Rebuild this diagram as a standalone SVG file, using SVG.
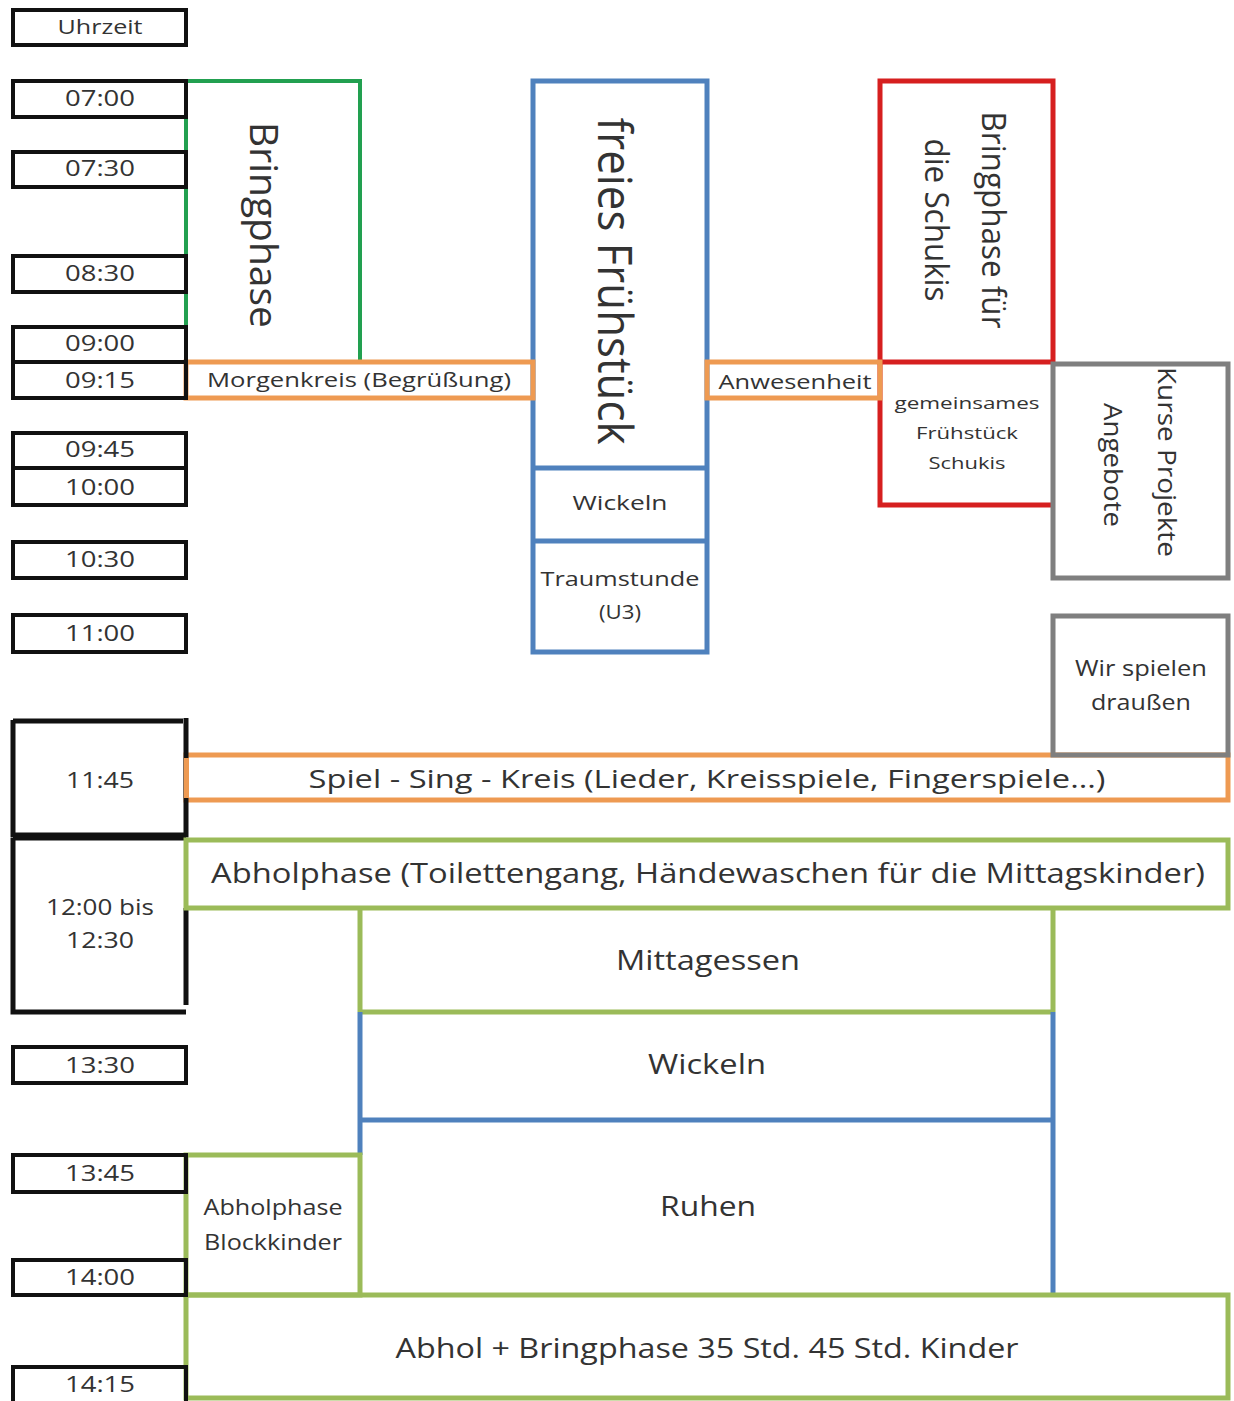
<svg xmlns="http://www.w3.org/2000/svg" width="1234" height="1401" viewBox="0 0 1234 1401">
<style>
.bg{fill:#ffffff}
.tb{fill:none;stroke:#111;stroke-width:4}
.g1{fill:none;stroke:#22a050;stroke-width:4}
.or{fill:none;stroke:#ee9a52;stroke-width:5}
.bl{fill:none;stroke:#4f81bd;stroke-width:5}
.rd{fill:none;stroke:#d61f1f;stroke-width:5}
.gy{fill:none;stroke:#7f7f7f;stroke-width:5}
.lg{fill:none;stroke:#9bbb59;stroke-width:5}
text{font-family:"Open Sans","Noto Sans","DejaVu Sans",sans-serif;fill:#333;text-anchor:middle}
.t{font-size:22px}
.s20{font-size:20px}
.s17{font-size:17px}
.s28{font-size:28px}
</style>
<rect class="bg" x="0" y="0" width="1234" height="1401"/>

<g id="connectors">
<!-- Mittagessen / Wickeln / Ruhen structure lines -->
<path class="lg" d="M360 908 V1012 M1053 908 V1012 M360 1012 H1053"/>
<path class="bl" d="M360 1012 V1155 M1053 1012 V1295 M360 1120 H1053"/>
</g>

<g id="bringphase">
<rect class="g1" x="186" y="81" width="174" height="281"/>
<text class="s20" transform="translate(250,225) rotate(90)" style="font-size:38px" textLength="206" lengthAdjust="spacingAndGlyphs">Bringphase</text>
</g>

<g id="fruehstueck">
<rect class="bl" x="533" y="81" width="174" height="571"/>
<path class="bl" d="M533 468 H707 M533 541 H707"/>
<text transform="translate(598,281) rotate(90)" style="font-size:48px" textLength="327" lengthAdjust="spacingAndGlyphs">freies Frühstück</text>
<text class="s20" x="620" y="510" textLength="95" lengthAdjust="spacingAndGlyphs">Wickeln</text>
<text class="s20" x="620" y="586" textLength="159" lengthAdjust="spacingAndGlyphs">Traumstunde</text>
<text class="s20" x="620" y="619" textLength="42" lengthAdjust="spacingAndGlyphs">(U3)</text>
</g>

<g id="schukis">
<rect class="rd" x="880" y="81" width="173" height="281"/>
<path class="rd" d="M880 362 V505 H1053"/>
<text transform="translate(982,220) rotate(90)" style="font-size:32px" textLength="217" lengthAdjust="spacingAndGlyphs">Bringphase für</text>
<text transform="translate(925,220) rotate(90)" style="font-size:32px" textLength="163" lengthAdjust="spacingAndGlyphs">die Schukis</text>
<text class="s17" x="967" y="409" textLength="145" lengthAdjust="spacingAndGlyphs">gemeinsames</text>
<text class="s17" x="967" y="439" textLength="102" lengthAdjust="spacingAndGlyphs">Frühstück</text>
<text class="s17" x="967" y="469" textLength="77" lengthAdjust="spacingAndGlyphs">Schukis</text>
</g>

<g id="morgenkreis">
<rect class="or" x="186" y="362" width="347" height="36"/>
<text class="s20" x="359" y="387" textLength="304" lengthAdjust="spacingAndGlyphs">Morgenkreis (Begrüßung)</text>
</g>

<g id="anwesenheit">
<rect class="or" x="707" y="362" width="173" height="36"/>
<text class="s20" x="795" y="389" textLength="153" lengthAdjust="spacingAndGlyphs">Anwesenheit</text>
</g>

<g id="kurse">
<rect class="gy" x="1053" y="364" width="175" height="214"/>
<text transform="translate(1158,462) rotate(90)" style="font-size:26px" textLength="190" lengthAdjust="spacingAndGlyphs">Kurse Projekte</text>
<text transform="translate(1104,465) rotate(90)" style="font-size:26px" textLength="124" lengthAdjust="spacingAndGlyphs">Angebote</text>
</g>

<g id="spielsing">
<rect class="or" x="186" y="755" width="1042" height="45"/>
<text x="707" y="788" style="font-size:26px" textLength="797" lengthAdjust="spacingAndGlyphs">Spiel - Sing - Kreis (Lieder, Kreisspiele, Fingerspiele...)</text>
</g>

<g id="draussen">
<rect class="gy" x="1053" y="616" width="175" height="139"/>
<text class="t" x="1141" y="676" textLength="132" lengthAdjust="spacingAndGlyphs">Wir spielen</text>
<text class="t" x="1141" y="710" textLength="100" lengthAdjust="spacingAndGlyphs">draußen</text>
</g>

<g id="times">
<rect class="tb" x="13" y="10" width="173" height="35"/>
<text class="s20" x="100" y="34" textLength="85" lengthAdjust="spacingAndGlyphs">Uhrzeit</text>
<rect class="tb" x="13" y="81" width="173" height="36"/>
<text class="t" x="100" y="106" textLength="70" lengthAdjust="spacingAndGlyphs">07:00</text>
<rect class="tb" x="13" y="152" width="173" height="35"/>
<text class="t" x="100" y="176" textLength="70" lengthAdjust="spacingAndGlyphs">07:30</text>
<rect class="tb" x="13" y="256" width="173" height="36"/>
<text class="t" x="100" y="281" textLength="70" lengthAdjust="spacingAndGlyphs">08:30</text>
<rect class="tb" x="13" y="327" width="173" height="35"/>
<text class="t" x="100" y="351" textLength="70" lengthAdjust="spacingAndGlyphs">09:00</text>
<rect class="tb" x="13" y="362" width="173" height="36"/>
<text class="t" x="100" y="388" textLength="70" lengthAdjust="spacingAndGlyphs">09:15</text>
<rect class="tb" x="13" y="433" width="173" height="35"/>
<text class="t" x="100" y="457" textLength="70" lengthAdjust="spacingAndGlyphs">09:45</text>
<rect class="tb" x="13" y="468" width="173" height="37"/>
<text class="t" x="100" y="495" textLength="70" lengthAdjust="spacingAndGlyphs">10:00</text>
<rect class="tb" x="13" y="542" width="173" height="36"/>
<text class="t" x="100" y="567" textLength="70" lengthAdjust="spacingAndGlyphs">10:30</text>
<rect class="tb" x="13" y="615" width="173" height="37"/>
<text class="t" x="100" y="641" textLength="70" lengthAdjust="spacingAndGlyphs">11:00</text>
</g>

<g id="t1145">
<path d="M13 720 V835 H186 V718 M13 721 H183" fill="none" stroke="#111" stroke-width="5"/>
<rect x="184" y="758" width="5" height="40" fill="#ee9a52"/>
<text class="t" x="100" y="788" textLength="68" lengthAdjust="spacingAndGlyphs">11:45</text>
</g>

<g id="t1200">
<path d="M13 838 V1012 H186 M186 908 V1005 M13 838 H186" fill="none" stroke="#111" stroke-width="5"/>
<text class="t" x="100" y="915" textLength="108" lengthAdjust="spacingAndGlyphs">12:00 bis</text>
<text class="t" x="100" y="948" textLength="68" lengthAdjust="spacingAndGlyphs">12:30</text>
</g>

<g id="abholphase">
<rect class="lg" x="186" y="840" width="1042" height="68"/>
<text class="s28" x="708" y="883" textLength="994" lengthAdjust="spacingAndGlyphs">Abholphase (Toilettengang, Händewaschen für die Mittagskinder)</text>
</g>

<g id="mittagessen">
<text class="s28" x="708" y="970" textLength="184" lengthAdjust="spacingAndGlyphs">Mittagessen</text>
</g>
<g id="wickeln2">
<text class="s28" x="707" y="1074" textLength="118" lengthAdjust="spacingAndGlyphs">Wickeln</text>
</g>
<g id="ruhen">
<text class="s28" x="708" y="1216" textLength="96" lengthAdjust="spacingAndGlyphs">Ruhen</text>
</g>

<g id="blockkinder">
<rect class="lg" x="186" y="1155" width="174" height="140"/>
<text x="273" y="1215" style="font-size:21px" textLength="139" lengthAdjust="spacingAndGlyphs">Abholphase</text>
<text x="273" y="1250" style="font-size:21px" textLength="138" lengthAdjust="spacingAndGlyphs">Blockkinder</text>
</g>

<g id="abholbring">
<rect class="lg" x="186" y="1295" width="1042" height="103"/>
<text class="s28" x="707" y="1358" textLength="623" lengthAdjust="spacingAndGlyphs">Abhol + Bringphase 35 Std. 45 Std. Kinder</text>
</g>

<g id="times2">
<rect class="tb" x="13" y="1047" width="173" height="36"/>
<text class="t" x="100" y="1073" textLength="70" lengthAdjust="spacingAndGlyphs">13:30</text>
<rect class="tb" x="13" y="1155" width="173" height="37"/>
<text class="t" x="100" y="1181" textLength="70" lengthAdjust="spacingAndGlyphs">13:45</text>
<rect class="tb" x="13" y="1260" width="173" height="35"/>
<text class="t" x="100" y="1285" textLength="70" lengthAdjust="spacingAndGlyphs">14:00</text>
<rect class="tb" x="13" y="1367" width="173" height="36"/>
<text class="t" x="100" y="1392" textLength="70" lengthAdjust="spacingAndGlyphs">14:15</text>
</g>
</svg>
